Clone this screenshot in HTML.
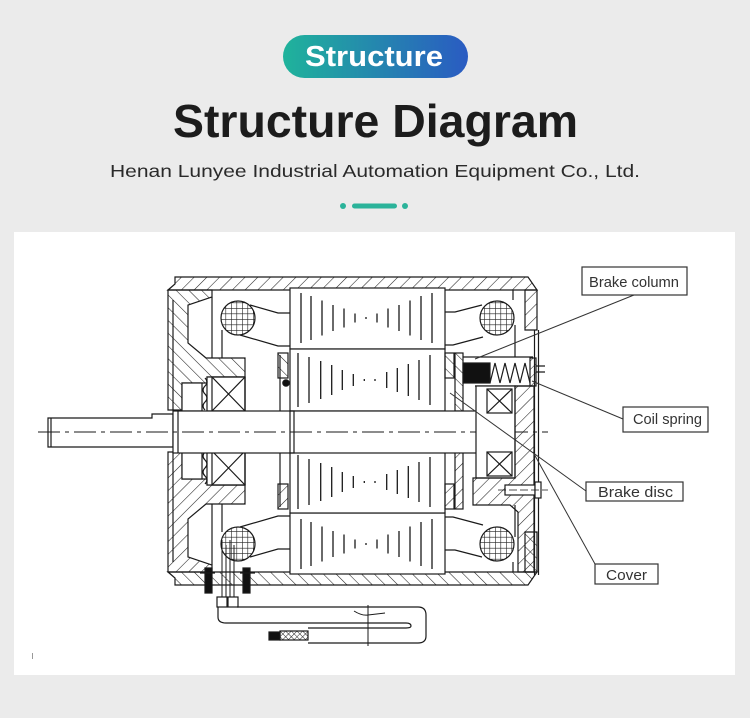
<!DOCTYPE html>
<html><head><meta charset="utf-8"><style>
html,body{margin:0;padding:0;background:#ebebeb;}
svg{display:block}
</style></head><body>
<svg width="750" height="718" viewBox="0 0 750 718" xmlns="http://www.w3.org/2000/svg" xmlns:xlink="http://www.w3.org/1999/xlink">
<defs>
<linearGradient id="pg" x1="0" x2="1" y1="0" y2="0"><stop offset="0" stop-color="#1fb39b"/><stop offset="1" stop-color="#2a5bc2"/></linearGradient>
<pattern id="h1" patternUnits="userSpaceOnUse" width="9" height="9" patternTransform="rotate(45)"><line x1="0" y1="0" x2="0" y2="9" stroke="#222" stroke-width="1.1"/></pattern>
<pattern id="h2" patternUnits="userSpaceOnUse" width="9" height="9" patternTransform="rotate(-45)"><line x1="0" y1="0" x2="0" y2="9" stroke="#222" stroke-width="1.1"/></pattern>
<pattern id="h3" patternUnits="userSpaceOnUse" width="6" height="6" patternTransform="rotate(45)"><line x1="0" y1="0" x2="0" y2="6" stroke="#222" stroke-width="1"/></pattern>
<pattern id="grid" patternUnits="userSpaceOnUse" width="5.5" height="5.5"><path d="M0,0H5.5M0,0V5.5" stroke="#222" stroke-width="1.2" fill="none"/></pattern>
<pattern id="braid" patternUnits="userSpaceOnUse" width="4" height="4" patternTransform="rotate(45)"><path d="M0,0H4M0,0V4" stroke="#222" stroke-width="1" fill="none"/></pattern>
</defs>
<rect width="750" height="718" fill="#ebebeb"/>

<!-- header -->
<rect x="283" y="35" width="185" height="43" rx="21.5" fill="url(#pg)"/>
<text x="305" y="66" font-family="Liberation Sans, sans-serif" font-weight="bold" font-size="29" fill="#fff" textLength="138" lengthAdjust="spacingAndGlyphs">Structure</text>
<text x="173" y="137" font-family="Liberation Sans, sans-serif" font-weight="bold" font-size="46" fill="#1c1c1c" textLength="405" lengthAdjust="spacingAndGlyphs">Structure Diagram</text>
<text x="110" y="177" font-family="Liberation Sans, sans-serif" font-size="17.5" fill="#2a2a2a" textLength="530" lengthAdjust="spacingAndGlyphs">Henan Lunyee Industrial Automation Equipment Co., Ltd.</text>
<circle cx="343" cy="206" r="3" fill="#2bb39a"/>
<rect x="352" y="203.5" width="45" height="5" rx="2.5" fill="#2bb39a"/>
<circle cx="405" cy="206" r="3" fill="#2bb39a"/>

<!-- panel -->
<rect x="14" y="232" width="721" height="443" fill="#fff"/>
<rect x="32" y="653" width="1" height="6" fill="#999"/>

<!-- symmetric half (top), mirrored for bottom -->
<g id="half" fill="none" stroke="#1a1a1a" stroke-width="1.2">
  <!-- housing band -->
  <polygon points="168,290 175,284 175,277 528,277 537,290" fill="url(#h1)"/>
  <polygon points="525,290 537,290 537,330 525,330" fill="url(#h1)"/>
  <!-- left cap -->
  <polygon points="168,290 212,290 212,297 188,305 188,343 206,358 245,358 245,377 207,377 207,383 182,383 182,410 168,410" fill="url(#h2)"/>
  <line x1="173" y1="300" x2="173" y2="410"/>
  <line x1="212" y1="297" x2="212" y2="358"/>
  <!-- seal -->
  <rect x="182" y="383" width="20" height="28" fill="#fff"/>
  <!-- bearing -->
  <rect x="207" y="377" width="38" height="34" fill="#fff"/>
  <path d="M205,378 q4,4 0,8 q-4,4 0,8 q4,4 0,8 q-4,4 0,8"/>
  <rect x="212" y="377" width="33" height="34"/>
  <path d="M212,377 L245,411 M245,377 L212,411"/>
  <!-- left winding -->
  <circle cx="238" cy="318" r="17" fill="url(#grid)"/>
  <path d="M250,305 L278,313 H290 M240,335 L278,346 H290 M222,330 V358"/>
  <line x1="280" y1="355" x2="280" y2="411"/>
  <line x1="245" y1="377" x2="245" y2="411"/>
  <rect x="278" y="353" width="10" height="25" fill="url(#h2)"/>
  <!-- stator blocks -->
  <rect x="290" y="288" width="155" height="61" fill="#fff"/>
  <rect x="290" y="349" width="155" height="62" fill="#fff"/>
  <g stroke-width="1.3">
    <path d="M301,293V343M311,296V340M322,300.5V335.5M333,305V331M344,308.5V327.5M355,313.5V322.5M366,317V319M377,313.5V322.5M388,308.5V327.5M399,305V331M410,300.5V335.5M421,296V340M432,293V343"/>
    <path d="M298,353V407M309,357V403M320.7,361V399M331.7,365V395M342.3,370V390M353.3,374V386M364.3,379V381M375,379V381M386.7,372V388M397.3,368V392M408.3,364V396M419,360V400M430,355V405"/>
  </g>
  <!-- right of stator strips -->
  <rect x="445" y="353" width="9" height="25" fill="url(#h2)"/>
  <rect x="455" y="353" width="8" height="58" fill="url(#h2)"/>
  <!-- right winding -->
  <circle cx="497" cy="318" r="17" fill="url(#grid)"/>
  <path d="M445,312 H455 L482,305 M445,345 H453 L483,337 M515,325 V357 M513,290 V300"/>
</g>
<use xlink:href="#half" href="#half" transform="translate(0,862) scale(1,-1)"/>

<g fill="none" stroke="#1a1a1a" stroke-width="1.2">
  <!-- shaft -->
  <path d="M48,418 H152 V414 H173 V447 H48 Z" fill="#fff"/>
  <line x1="51" y1="418" x2="51" y2="447"/>
  <rect x="173" y="411" width="315" height="42" fill="#fff"/>
  <line x1="178" y1="411" x2="178" y2="453"/>
  <rect x="290" y="411" width="4" height="42"/>
  <rect x="488" y="414" width="24" height="36" fill="#fff"/>
  <line x1="38" y1="432" x2="548" y2="432" stroke-width="1" stroke-dasharray="22 5 4 5"/>

  <!-- brake top -->
  <line x1="463" y1="357" x2="533" y2="357"/>
  <line x1="475" y1="386" x2="533" y2="386"/>
  <rect x="463" y="363" width="27" height="20" fill="#111"/>
  <path d="M490,383 L495,363 L500,383 L505,363 L510,383 L515,363 L520,383 L525,363 L530,383"/>
  <rect x="530" y="358" width="6" height="28" fill="url(#h3)"/>
  <path d="M536,366 H545 M536,372 H545"/>

  <!-- cover lines -->
  <line x1="534.5" y1="330" x2="534.5" y2="575"/>
  <line x1="538.5" y1="330" x2="538.5" y2="575"/>

  <!-- right bearing -->
  <rect x="476" y="386" width="39" height="92" fill="#fff"/>
  <rect x="487" y="389" width="25" height="24"/>
  <path d="M487,389 L512,413 M512,389 L487,413"/>
  <rect x="487" y="452" width="25" height="24"/>
  <path d="M487,452 L512,476 M512,452 L487,476"/>
  <!-- right cap lower -->
  <polygon points="515,386 534,386 534,572 518,572 518,512 510,505 473,505 473,478 515,478" fill="url(#h1)"/>
  <rect x="505" y="485" width="30" height="10" fill="#fff"/>
  <rect x="535" y="482" width="6" height="16" fill="#fff"/>
  <line x1="498" y1="490" x2="548" y2="490" stroke-width="0.8" stroke-dasharray="8 3"/>

  <!-- left dot -->
  <circle cx="286" cy="383" r="3.2" fill="#111"/>

  <!-- cable gland -->
  <path d="M205,568 H212 V593 H205 Z" fill="#111"/>
  <path d="M243,568 H250 V593 H243 Z" fill="#111"/>
  <path d="M200,573 H215 M240,573 H255"/>
  <path d="M222,540 V598 M226,545 V598 M230,540 V598 M234,545 V598" stroke-width="1"/>
  <rect x="217" y="597" width="10" height="10" fill="#fff"/>
  <rect x="228" y="597" width="10" height="10" fill="#fff"/>
  <!-- cable -->
  <path d="M237,607 H418 Q426,607 426,615 V636 Q426,643 418,643 H308"/>
  <path d="M218,607 V617 Q218,623 226,623 H406 Q411,623 411,626 Q411,628 406,628 H308"/>
  <rect x="280" y="631" width="28" height="9" fill="url(#braid)"/>
  <rect x="269" y="632" width="11" height="8" fill="#111"/>
  <path d="M368,605 V646 M354,611 Q362,616 368,615 L385,613" stroke-width="1"/>
</g>

<!-- leader lines -->
<g stroke="#333" stroke-width="1" fill="none">
  <line x1="634" y1="295" x2="475" y2="359"/>
  <line x1="623" y1="419" x2="532" y2="381"/>
  <line x1="586" y1="491" x2="450" y2="393"/>
  <line x1="595" y1="564" x2="533" y2="452"/>
</g>

<!-- labels -->
<g font-family="Liberation Sans, sans-serif" font-size="15" fill="#333">
  <rect x="582" y="267" width="105" height="28" fill="#fff" stroke="#333" stroke-width="1.2"/>
  <text x="589" y="287" textLength="90" lengthAdjust="spacingAndGlyphs">Brake column</text>
  <rect x="623" y="407" width="85" height="25" fill="#fff" stroke="#333" stroke-width="1.2"/>
  <text x="633" y="424" textLength="69" lengthAdjust="spacingAndGlyphs">Coil spring</text>
  <rect x="586" y="482" width="97" height="19" fill="#fff" stroke="#333" stroke-width="1.2"/>
  <text x="598" y="497" textLength="75" lengthAdjust="spacingAndGlyphs">Brake disc</text>
  <rect x="595" y="564" width="63" height="20" fill="#fff" stroke="#333" stroke-width="1.2"/>
  <text x="606" y="580" textLength="41" lengthAdjust="spacingAndGlyphs">Cover</text>
</g>
</svg>
</body></html>
